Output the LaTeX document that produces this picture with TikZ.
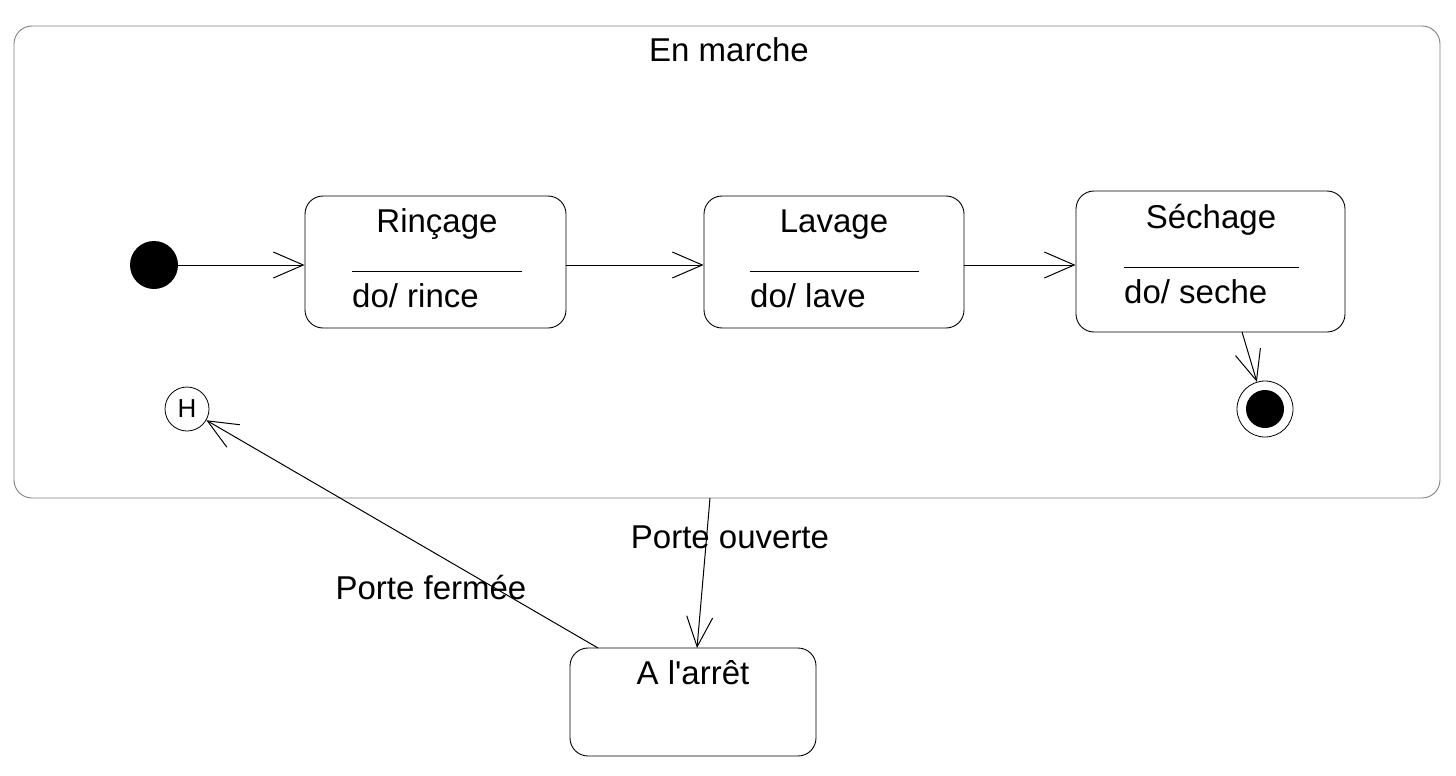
\documentclass[tikz,border=0pt]{standalone}
\usepackage{fontspec}
\setmainfont{Liberation Sans}[Ligatures=TeXOff]
\usetikzlibrary{arrows.meta}
\tikzset{
  state/.style={draw,rounded corners=18pt,line width=0.9pt},
  label/.style={anchor=base,inner sep=0pt,font=\fontsize{33}{38}\selectfont},
  trans/.style={line width=1pt,-{Straight Barb[length=30pt,width=26pt,line width=1pt]}}
}
\begin{document}
\begin{tikzpicture}[x=1pt,y=-1pt]
\useasboundingbox (0,0) rectangle (1456,776);
% composite state
\node[state,draw=gray,minimum width=1426pt,minimum height=472pt] (marche) at (727,262) {};
\node[label] (marchelabel) at (729,62) {En marche};

% initial, history and final states
\node[circle,fill=black,minimum size=48pt,inner sep=0pt] (init) at (154,265) {};
\node[circle,draw,line width=0.8pt,minimum size=44pt,inner sep=0pt,font=\fontsize{26}{30}\selectfont] (hist) at (187,409) {H};
\node[circle,draw,line width=0.8pt,minimum size=56pt,inner sep=0pt] (final) at (1265,409) {};
\fill (final.center) circle [radius=19pt];

% simple states
\node[state,minimum width=261pt,minimum height=132pt] (rincage) at (435.5,262) {};
\node[label] at (437,232) {Rinçage};
\draw[line width=0.8pt] (352,271) -- (522,271);
\node[label,anchor=base west] at (352,307) {do/ rince};

\node[state,minimum width=260pt,minimum height=132pt] (lavage) at (834,262) {};
\node[label] at (834,232) {Lavage};
\draw[line width=0.8pt] (750,271) -- (919,271);
\node[label,anchor=base west] at (750,307) {do/ lave};

\node[state,minimum width=269pt,minimum height=141pt] (sechage) at (1210.5,261.5) {};
\node[label] at (1211,228) {Séchage};
\draw[line width=0.8pt] (1124,267) -- (1299,267);
\node[label,anchor=base west] at (1124,303) {do/ seche};

\node[state,minimum width=246pt,minimum height=108pt] (arret) at (693,702) {};
\node[label] at (693,684) {A l'arrêt};

% transitions
\draw[trans] (init.east) -- (rincage.west |- init);
\draw[trans] (rincage.east |- init) -- (lavage.west |- init);
\draw[trans] (lavage.east |- init) -- (sechage.west |- init);
\draw[trans] (1242,332) -- (final);
\draw[trans] (710,498) -- (697,648);
\draw[trans] (598,648) -- (hist);
\node[label] at (730,548) {Porte ouverte};
\node[label] at (431,599) {Porte fermée};
\end{tikzpicture}
\end{document}
